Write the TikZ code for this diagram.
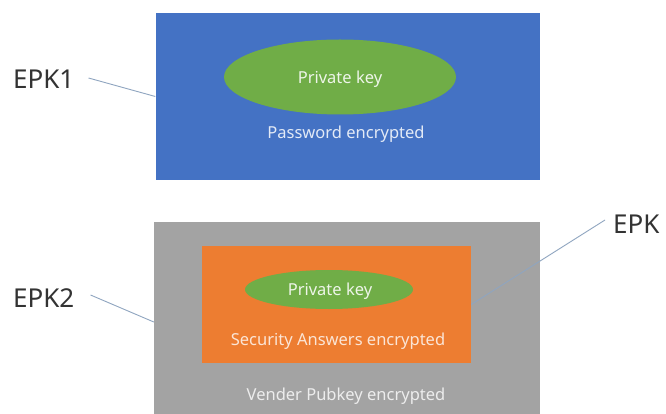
\documentclass[tikz,border=0pt]{standalone}
\usepackage{fontspec}
\setmainfont{Noto Sans}
\usetikzlibrary{shapes.geometric,calc}
\definecolor{boxblue}{HTML}{4472C4}
\definecolor{keygreen}{HTML}{70AD47}
\definecolor{boxorange}{HTML}{ED7D31}
\definecolor{boxgray}{HTML}{A3A3A3}
\definecolor{linecol}{HTML}{8FA5C0}
\definecolor{labelcol}{HTML}{333333}
\begin{document}
\begin{tikzpicture}[x=1pt,y=-1pt,
  box/.style={rectangle,draw=none,inner sep=0pt},
  keyell/.style={ellipse,fill=keygreen,draw=none,inner sep=0pt},
  intext/.style={font=\fontsize{16.5}{19}\selectfont,inner sep=0pt},
  lbl/.style={font=\fontsize{26}{30}\selectfont,text=labelcol,inner sep=0pt},
  conn/.style={draw=linecol,line width=0.9pt}]
\useasboundingbox (0,0) rectangle (666,414);
\clip (0,0) rectangle (666,414);
\fill[white] (0,0) rectangle (666,414);
% top group
\node[box,fill=boxblue,minimum width=384.5pt,minimum height=167pt] (blue) at (347.75,96.5) {};
\node[keyell,minimum width=232pt,minimum height=75pt] (key1) at (340,77) {};
\node[intext,text=white!88!keygreen] (pk1) at (340,79) {Private key};
\node[intext,text=white!85!boxblue] (pw) at (346,134) {Password encrypted};
\node[lbl,anchor=west] (epk1) at (13,79) {EPK1};
% bottom group
\node[box,fill=boxgray,minimum width=386pt,minimum height=208pt] (gray) at (347,326) {};
\node[box,fill=boxorange,minimum width=269pt,minimum height=117pt] (orange) at (336.5,304.5) {};
\node[keyell,minimum width=168pt,minimum height=39pt] (key2) at (329,289.5) {};
\node[intext,text=white!88!keygreen] (pk2) at (330,291) {Private key};
\node[intext,text=white!80!boxorange] (sa) at (338,341) {Security Answers encrypted};
\node[intext,text=white!80!boxgray] (vp) at (346,396) {Vender Pubkey encrypted};
\node[lbl,anchor=west] (epk2) at (13,298) {EPK2};
\node[lbl,anchor=west] (epk3) at (613,224) {EPK};
% connectors
\draw[conn] ($(epk1.east)+(14,-1)$) -- (blue.west);
\draw[conn] ($(epk2.east)+(16,-3)$) -- ([yshift=4pt]gray.west);
\draw[conn] (orange.east) -- ($(epk3.west)+(-8,-4)$);
\end{tikzpicture}
\end{document}
